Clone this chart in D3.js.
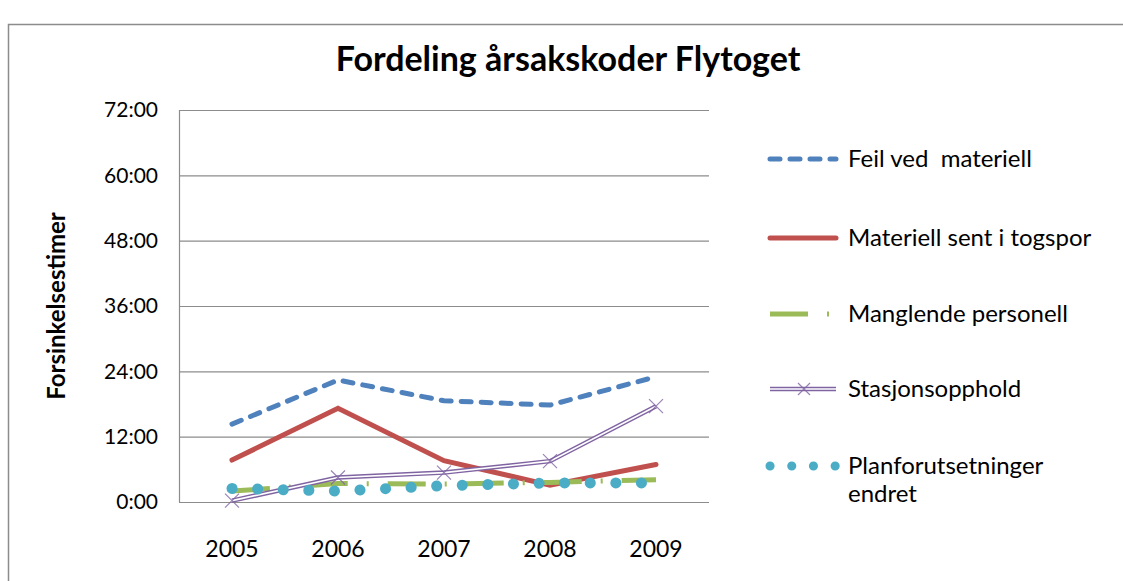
<!DOCTYPE html>
<html lang="no">
<head>
    <meta charset="UTF-8">
    <title>Fordeling årsakskoder Flytoget</title>
    <script src="https://d3js.org/d3.v7.min.js"></script>
    <style>
        body { margin: 0; background: #fff; }
        text { font-family: Lato, "Open Sans", sans-serif; fill: #000; }
    </style>
</head>
<body>
<script>

    const width = 1123;
    const height = 581;

    // data (hours of delay)
    const years = ['2005', '2006', '2007', '2008', '2009'];
    const seriesNames = ['Feil ved  materiell', 'Materiell sent i togspor', 'Manglende personell', 'Stasjonsopphold', 'Planforutsetninger endret'];
    const feilVedMateriell = [14.3, 22.4, 18.6, 17.8, 23.0];
    const materiellSent = [7.7, 17.2, 7.6, 3.1, 6.9];
    const manglendePersonell = [2.0, 3.4, 3.3, 3.6, 4.1];
    const stasjonsopphold = [0.25, 4.5, 5.4, 7.5, 17.6];
    const planforutsetninger = [2.5, 2.0, 3.0, 3.5, 3.5];
    const yTicks = [0, 12, 24, 36, 48, 60, 72];

    const values = [feilVedMateriell, materiellSent, manglendePersonell, stasjonsopphold, planforutsetninger];
    const colors = ['#4F81BD', '#C0504D', '#9BBB59', '#8064A2', '#4BACC6'];

    const series = seriesNames.map((name, i) => ({
        name: name,
        color: colors[i],
        points: years.map((y, j) => ({year: y, value: values[i][j]}))
    }));

    const svg = d3.select("body").append("svg")
        .attr("width", width).attr("height", height);

    svg.append("rect").attr("width", width).attr("height", height).attr("fill", "#fff");

    // outer chart border
    svg.append("rect")
        .attr("x", 8.5).attr("y", 24.5)
        .attr("width", width + 20).attr("height", height + 20)
        .attr("fill", "none").attr("stroke", "#8c8c8c").attr("stroke-width", 1.5);

    svg.append("text")
        .attr("x", 568).attr("y", 71)
        .attr("text-anchor", "middle")
        .attr("font-size", 34).attr("font-weight", "bold")
        .text("Fordeling årsakskoder Flytoget");

    const x = d3.scaleBand().domain(years).range([179, 709]);
    const y = d3.scaleLinear().domain([0, 72]).range([502, 110]);
    const cx = d => x(d) + x.bandwidth() / 2;

    // gridlines
    svg.append("g").selectAll("line").data(yTicks).join("line")
        .attr("x1", 179).attr("x2", 709)
        .attr("y1", d => y(d) + 0.5).attr("y2", d => y(d) + 0.5)
        .attr("stroke", "#8c8c8c").attr("stroke-width", 1.2);

    svg.append("line")
        .attr("x1", 179.5).attr("x2", 179.5).attr("y1", 110).attr("y2", 502)
        .attr("stroke", "#8c8c8c").attr("stroke-width", 1.2);

    svg.append("g").selectAll("text").data(yTicks).join("text")
        .attr("x", 158).attr("y", d => y(d))
        .attr("dy", "0.35em")
        .attr("text-anchor", "end")
        .attr("font-size", 21)
        .text(d => d + ":00");

    svg.append("g").selectAll("text").data(years).join("text")
        .attr("x", d => cx(d)).attr("y", 549)
        .attr("dy", "0.35em")
        .attr("text-anchor", "middle")
        .attr("font-size", 23)
        .text(d => d);

    svg.append("text")
        .attr("transform", "translate(57,306) rotate(-90)")
        .attr("text-anchor", "middle")
        .attr("dy", "0.35em")
        .attr("font-size", 24).attr("font-weight", "bold")
        .text("Forsinkelsestimer");

    const line = d3.line().x(d => cx(d.year)).y(d => y(d.value));

    // line styles for each series
    function styleLine(sel, i) {
        if (i === 0) {
            sel.attr("stroke", colors[0]).attr("stroke-width", 5)
                .attr("stroke-dasharray", "10,10").attr("stroke-linecap", "round");
        } else if (i === 1) {
            sel.attr("stroke", colors[1]).attr("stroke-width", 5).attr("stroke-linecap", "round");
        } else if (i === 2) {
            sel.attr("stroke", colors[2]).attr("stroke-width", 5)
                .attr("stroke-dasharray", "38,19,2,19");
        } else if (i === 3) {
            sel.attr("stroke", colors[3]).attr("stroke-width", 4.5);
        } else {
            sel.attr("stroke", colors[4]).attr("stroke-width", 11)
                .attr("stroke-dasharray", "0.1,25.5").attr("stroke-linecap", "round");
        }
    }

    function drawSeries(g, s, i, path) {
        const p = g.append("path").attr("d", path).attr("fill", "none");
        styleLine(p, i);
        if (i === 3) {
            g.append("path").attr("d", path).attr("fill", "none")
                .attr("stroke", "#fff").attr("stroke-width", 1.6);
        }
        return p;
    }

    const plot = svg.append("g");
    series.forEach((s, i) => {
        drawSeries(plot, s, i, line(s.points));
        if (i === 3) {
            plot.append("g").selectAll("path").data(s.points).join("path")
                .attr("d", d => {
                    const px = cx(d.year), py = y(d.value), r = 7;
                    return `M${px - r},${py - r}L${px + r},${py + r}M${px - r},${py + r}L${px + r},${py - r}`;
                })
                .attr("stroke", colors[3]).attr("stroke-width", 1.2).attr("stroke-opacity", 0.8);
        }
    });

    // legend
    const legendY = [159, 238, 314, 389, 466];
    const legend = svg.append("g");
    series.forEach((s, i) => {
        const ly = legendY[i];
        const g = legend.append("g");
        const p = drawSeries(g, s, i, `M770,${ly}L836,${ly}`);
        if (i === 4) p.attr("stroke-width", 9).attr("stroke-dasharray", "0.1,21.6");
        if (i === 3) {
            g.append("path")
                .attr("d", `M798,${ly - 6}L810,${ly + 6}M798,${ly + 6}L810,${ly - 6}`)
                .attr("stroke", colors[3]).attr("stroke-width", 1.2).attr("stroke-opacity", 0.8);
        }
        const t = g.append("text")
            .attr("x", 848).attr("y", ly)
            .attr("dy", "0.35em")
            .attr("font-size", 24)
            .style("white-space", "pre");
        if (i === 4) {
            t.append("tspan").attr("x", 848).text("Planforutsetninger");
            t.append("tspan").attr("x", 848).attr("dy", "1.15em").text("endret");
        } else {
            t.text(s.name);
        }
    });

</script>
</body>
</html>
